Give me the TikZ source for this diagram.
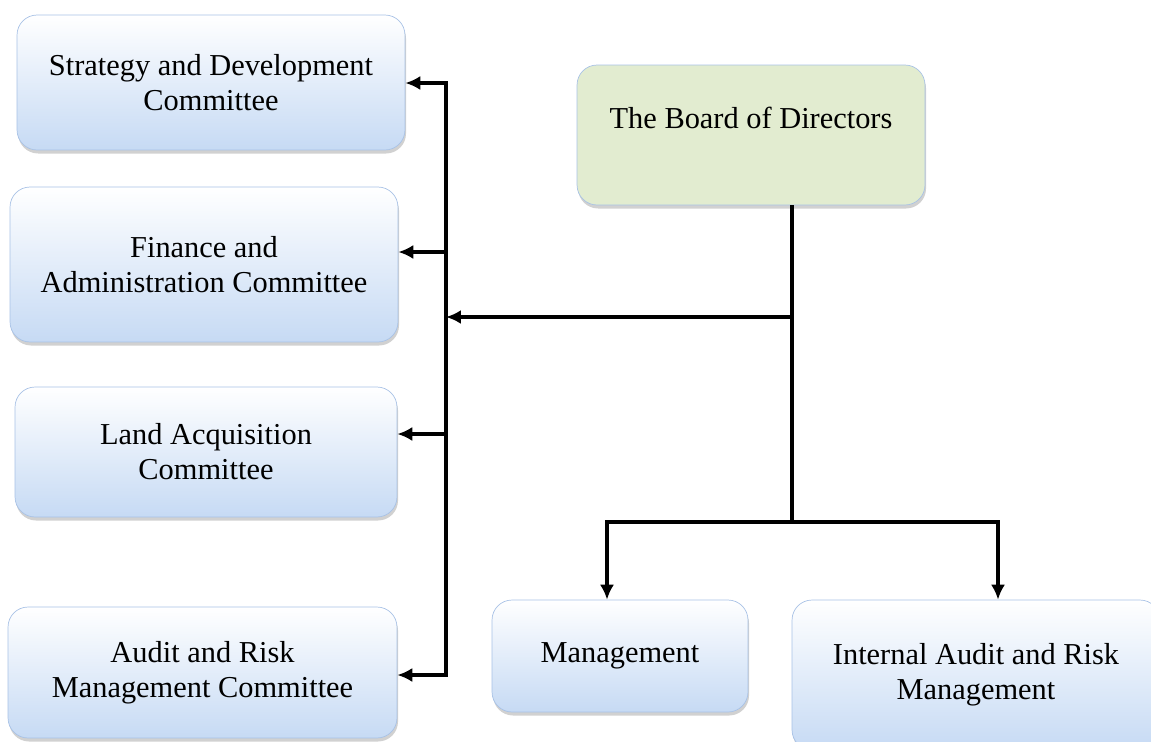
\documentclass[tikz,border=0pt]{standalone}
\usepackage{fontspec}
\setmainfont{Liberation Serif}
\usetikzlibrary{arrows.meta,shadows,positioning}
\definecolor{boxblue}{RGB}{198,218,244}
\definecolor{boxedge}{RGB}{168,194,230}
\definecolor{boardgreen}{RGB}{226,236,208}

\begin{document}
\begin{tikzpicture}[x=0.02cm,y=-0.02cm,>={Latex[length=8.5pt,width=8pt]},
  cbox/.style={draw=boxedge,thin,rounded corners=0.4cm,top color=white,bottom color=boxblue,
    drop shadow={shadow xshift=0.6pt,shadow yshift=-2pt,fill=black!40,opacity=.45},
    align=center,inner sep=0pt,font=\fontsize{17.3}{20}\selectfont},
  bbox/.style={cbox,top color=boardgreen,bottom color=boardgreen},
  link/.style={line width=1.8pt}]

\useasboundingbox (0,0) rectangle (1151,741);

% committees on the left
\node[cbox,minimum width=7.76cm,minimum height=2.7cm]  (strat) at (211,82.5)  {Strategy and Development\\Committee};
\node[cbox,minimum width=7.76cm,minimum height=3.1cm]  (fin)   at (204,264.5) {Finance and\\Administration Committee};
\node[cbox,minimum width=7.64cm,minimum height=2.6cm]  (land)  at (206,452)   {Land Acquisition\\Committee};
\node[cbox,minimum width=7.78cm,minimum height=2.62cm] (audit) at (202.5,672.5) {Audit and Risk\\Management Committee};

% board and the two units below it
\node[bbox,minimum width=6.96cm,minimum height=2.8cm] (board) at (751,135) {The Board of Directors\\\mbox{}};
\node[cbox,minimum width=5.12cm,minimum height=2.24cm] (mgmt) at (620,656) {Management};
\node[cbox,minimum width=7.36cm,minimum height=3cm]   (iarm) at (976,675) {Internal Audit and Risk\\Management};

\coordinate (tr) at (792,522);
\coordinate (jn) at (792,317);
\coordinate (bm) at (446,317);
\coordinate (lm) at (607,522);
\coordinate (lr) at (998,522);
\foreach \n/\y in {strat/83,fin/252,land/434,audit/675}
  \coordinate (b\n) at (446,\y);

% the bus to the committees
\draw[link,->] (bm) -- (bstrat) -- (bstrat -| strat.east);
\draw[link,->] (bm) -- (baudit) -- (baudit -| audit.east);
\foreach \n in {fin,land}
  \draw[link,->] (b\n) -- (b\n -| \n.east);

% trunk from the board
\draw[link] (board.south -| tr) -- (tr);
\draw[link,->] (jn) -- (bm);
\draw[link,->] (tr) -| (lm |- mgmt.north);
\draw[link,->] (tr) -| (lr |- iarm.north);
\end{tikzpicture}
\end{document}
